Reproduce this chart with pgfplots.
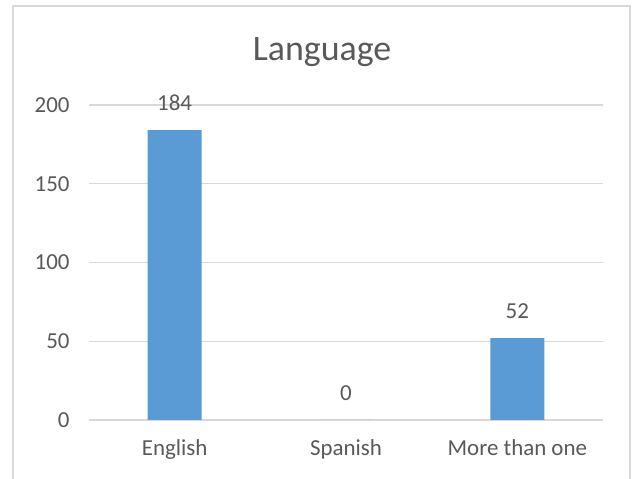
\documentclass[border=0pt]{standalone}
\usepackage{pgfplots}
\pgfplotsset{compat=1.18}
\usepackage{fontspec}
\setmainfont{Carlito}
\definecolor{barblue}{HTML}{5B9BD5}
\definecolor{txtgray}{HTML}{595959}
\definecolor{gridgray}{HTML}{D9D9D9}
\begin{document}
\begin{tikzpicture}
\useasboundingbox (0,0) rectangle (636bp,479bp);
\fill[white] (0,0) rectangle (636bp,479bp);
\draw[gridgray, line width=1.2bp] (13bp,-2bp) -- (13bp,473bp) -- (630bp,473bp) -- (630bp,-2bp);
\begin{axis}[
  at={(89bp,59bp)}, anchor=south west,
  scale only axis,
  width=514bp, height=315bp,
  xmin=-0.5, xmax=2.5,
  ymin=0, ymax=200,
  ytick={0,50,100,150,200},
  xtick={0,1,2},
  xticklabels={English,Spanish,More than one},
  axis line style={draw=none},
  axis x line*=bottom,
  x axis line style={draw=gridgray, line width=1.2bp},
  ymajorgrids,
  grid style={gridgray, line width=1.2bp},
  major tick length=0pt,
  tick label style={font=\fontsize{23}{27}\selectfont, text=txtgray},
  yticklabel style={xshift=-16bp},
  xticklabel style={yshift=-16bp},
  /pgf/number format/assume math mode=true,
  clip=false,
]
\addplot[ybar, bar width=54bp, fill=barblue, draw=none,
  nodes near coords,
  every node near coord/.append style={anchor=center, yshift=27bp,
    font=\fontsize{23}{27}\selectfont, text=txtgray}]
  coordinates {(0,184) (1,0) (2,52)};
\end{axis}
\node[text=txtgray, font=\fontsize{36}{42}\selectfont] at (322bp,427bp) {Language};
\end{tikzpicture}
\end{document}
